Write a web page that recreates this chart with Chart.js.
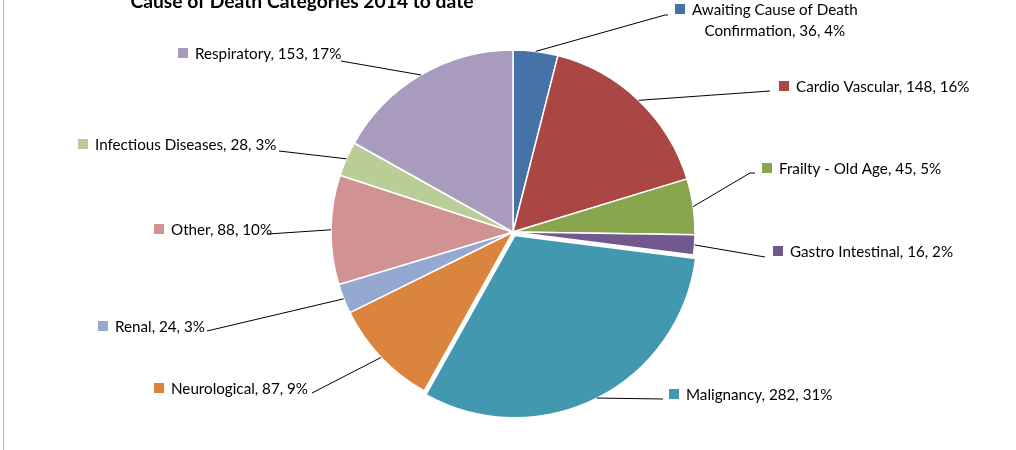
<!DOCTYPE html>
<html>
<head>
<meta charset="utf-8">
<title>Cause of Death Categories 2014 to date</title>
<script src="https://cdn.jsdelivr.net/npm/chart.js@4.4.1/dist/chart.umd.min.js"></script>
<style>
  html, body { margin: 0; padding: 0; background: #fff; }
  #wrap { position: relative; width: 1016px; height: 450px; }
</style>
</head>
<body>
<div id="wrap"><canvas id="deathPie"></canvas></div>
<script>
/* Data */
const categories = ['Awaiting Cause of Death Confirmation', 'Cardio Vascular', 'Frailty - Old Age', 'Gastro Intestinal',
  'Malignancy', 'Neurological', 'Renal', 'Other', 'Infectious Diseases', 'Respiratory'];
const deaths = [36, 148, 45, 16, 282, 87, 24, 88, 28, 153];
const percents = [4, 16, 5, 2, 31, 9, 3, 10, 3, 17];
const sliceColors = ['#4572A7', '#AA4643', '#89A54E', '#71588F', '#4198AF',
  '#DB843D', '#93A9CF', '#D19392', '#B9CD96', '#A99BBD'];
const chartTitle = 'Cause of Death Categories 2014 to date';

/* where each data label sits: box = marker left / centre y, leader ends at end (optionally through elbow) */
const labelLayout = [
  { box: [675, 9], elbow: [665, 15], end: [668, 15], wrap: 190 },
  { box: [779, 86], end: [770, 91] },
  { box: [762, 168], elbow: [750, 173], end: [755, 173] },
  { box: [773, 251], end: [765, 257] },
  { box: [669, 394], end: [663, 399] },
  { box: [154, 388], end: [312, 393] },
  { box: [98, 326], end: [207, 331] },
  { box: [154, 229], end: [268, 234] },
  { box: [78, 144], end: [279, 151] },
  { box: [178, 53], end: [341, 61] }
];

const FONT = '15.2px Lato, "Open Sans", sans-serif';

function wrapText(ctx, text, maxWidth) {
  const words = text.split(' ');
  const lines = [];
  let line = '';
  words.forEach(w => {
    const test = line ? line + ' ' + w : w;
    if (line && ctx.measureText(test).width > maxWidth) {
      lines.push(line);
      line = w;
    } else {
      line = test;
    }
  });
  lines.push(line);
  return lines;
}

// data labels with leader lines + title + frame line
const labelPlugin = {
  id: 'pieLabels',
  afterDraw(chart) {
    const ctx = chart.ctx;
    const arcs = chart.getDatasetMeta(0).data;
    ctx.save();

    // frame line on the left
    ctx.strokeStyle = '#b4b4b4';
    ctx.lineWidth = 1;
    ctx.beginPath();
    ctx.moveTo(3.5, 0);
    ctx.lineTo(3.5, chart.height);
    ctx.stroke();

    // title
    ctx.fillStyle = '#000';
    ctx.font = 'bold 19.3px Lato, "Open Sans", sans-serif';
    ctx.textAlign = 'center';
    ctx.textBaseline = 'alphabetic';
    ctx.fillText(chartTitle, 302, 8);

    ctx.font = FONT;
    arcs.forEach((arc, i) => {
      const lay = labelLayout[i];
      const p = arc.getProps(['x', 'y', 'startAngle', 'endAngle', 'outerRadius'], true);
      const mid = (p.startAngle + p.endAngle) / 2;
      const shift = (arc.options.offset || 0) / 4;
      const sx = p.x + Math.cos(mid) * (p.outerRadius + shift);
      const sy = p.y + Math.sin(mid) * (p.outerRadius + shift);

      // leader line
      ctx.strokeStyle = '#000';
      ctx.lineWidth = 1;
      ctx.beginPath();
      ctx.moveTo(sx, sy);
      if (lay.elbow) ctx.lineTo(lay.elbow[0], lay.elbow[1]);
      ctx.lineTo(lay.end[0], lay.end[1]);
      ctx.stroke();

      // marker square
      const bx = lay.box[0], by = lay.box[1];
      ctx.fillStyle = sliceColors[i];
      ctx.fillRect(bx, by - 5, 10, 10);

      // text
      const text = categories[i] + ', ' + deaths[i] + ', ' + percents[i] + '%';
      ctx.fillStyle = '#000';
      ctx.textBaseline = 'middle';
      if (lay.wrap) {
        const lines = wrapText(ctx, text, lay.wrap);
        const w0 = ctx.measureText(lines[0]).width;
        const cx = bx + 17 + w0 / 2;
        ctx.textAlign = 'center';
        lines.forEach((ln, k) => ctx.fillText(ln, cx, by + 1 + k * 21));
      } else {
        ctx.textAlign = 'left';
        ctx.fillText(text, bx + 17, by + 1);
      }
    });
    ctx.restore();
  }
};

new Chart(document.getElementById('deathPie'), {
  type: 'pie',
  data: {
    labels: categories,
    datasets: [{
      data: deaths,
      backgroundColor: sliceColors,
      borderColor: '#fff',
      borderWidth: 1.5,
      offset: categories.map(c => c === 'Malignancy' ? 16 : 0)
    }]
  },
  options: {
    responsive: true,
    maintainAspectRatio: false,
    animation: false,
    radius: 182,
    layout: { padding: { left: 10, top: 14, right: 0, bottom: 0 } },
    plugins: {
      legend: { display: false },
      tooltip: { enabled: false },
      title: { display: false }
    }
  },
  plugins: [labelPlugin]
});
</script>
</body>
</html>
